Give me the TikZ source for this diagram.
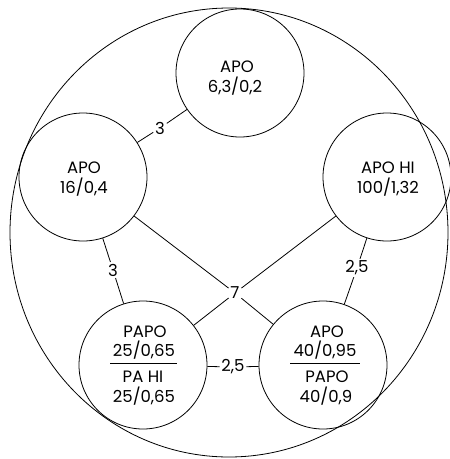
\documentclass[tikz,border=0pt]{standalone}
\usepackage{fontspec}
\setmainfont{Poppins}
\begin{document}
\begin{tikzpicture}[x=1pt,y=1pt,
  line width=0.8pt,
  station/.style={draw, circle, minimum size=128pt, inner sep=0pt},
  txt/.style={font=\fontsize{16.5}{20}\selectfont, inner sep=0pt, anchor=base},
  wt/.style={font=\fontsize{16.5}{20}\selectfont, inner sep=1.5pt, fill=white}]
\useasboundingbox (0,0) rectangle (450,-459);
% outer boundary
\draw (229,-232.5) ellipse [x radius=219, y radius=224.5];
% stations
\node[station] (top) at (240,-73) {};
\node[station] (lft) at (83,-177) {};
\node[station] (rgt) at (387,-177) {};
\node[station] (bl)  at (143,-365) {};
\node[station] (br)  at (323,-365) {};
% station texts
\node[txt] (t1) at (237,-72) {APO};
\node[txt] (t2) at (235,-92) {6,3/0,2};
\node[txt] (l1) at (84,-173) {APO};
\node[txt] (l2) at (84,-193) {16/0,4};
\node[txt] (r1) at (388,-173) {APO HI};
\node[txt] (r2) at (388,-193) {100/1,32};
\node[txt] (b1) at (145,-337) {PAPO};
\node[txt] (b2) at (144,-356) {25/0,65};
\node[txt] (b3) at (143,-382) {PA HI};
\node[txt] (b4) at (144,-402) {25/0,65};
\node[txt] (c1) at (327,-337) {APO};
\node[txt] (c2) at (325,-356) {40/0,95};
\node[txt] (c3) at (327,-382) {PAPO};
\node[txt] (c4) at (326,-402) {40/0,9};
% fraction bars
\coordinate (bra) at (110,-363); \coordinate (brb) at (177,-363);
\coordinate (cra) at (290,-363); \coordinate (crb) at (360,-363);
\draw (bra) -- (brb);
\draw (cra) -- (crb);
% edge weights
\node[wt] (w1) at (160,-128) {3};
\node[wt] (w2) at (113,-270) {3};
\node[wt] (w3) at (235,-293) {7};
\node[wt] (w4) at (357,-268) {2,5};
\node[wt] (w5) at (233,-367) {2,5};
% connections
\draw (top) -- (w1) -- (lft);
\draw (lft) -- (w2) -- (bl);
\draw (lft) -- (w3) -- (br);
\draw (rgt) -- (w3) -- (bl);
\draw (rgt) -- (w4) -- (br);
\draw (bl) -- (w5) -- (br);
\end{tikzpicture}
\end{document}
